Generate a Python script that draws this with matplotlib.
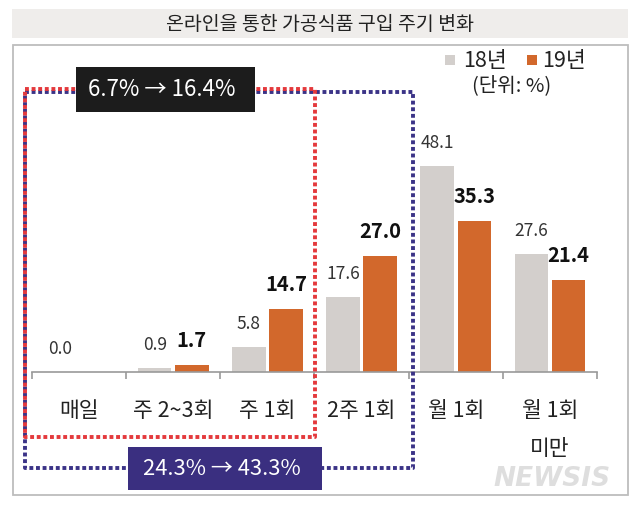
import numpy as np
import matplotlib
matplotlib.use('Agg')
import matplotlib.pyplot as plt
from matplotlib.patches import Rectangle

plt.rcParams['font.family'] = ['Noto Sans CJK KR', 'DejaVu Sans']

# data
categories = ['매일', '주 2~3회', '주 1회', '2주 1회', '월 1회', '월 1회\n미만']
y18 = [0.0, 0.9, 5.8, 17.6, 48.1, 27.6]
y19 = [0.0, 1.7, 14.7, 27.0, 35.3, 21.4]
show19 = [False, True, True, True, True, True]  # 매일 19년 label is not printed
legend_labels = ['18년', '19년']
title = '온라인을 통한 가공식품 구입 주기 변화'
unit = '(단위: %)'
box_small = '6.7% → 16.4%'
box_big = '24.3% → 43.3%'

c18 = '#d3cfcc'
c19 = '#d2682c'
W, H = 640, 505

fig = plt.figure(figsize=(6.4, 5.05), dpi=100)
fig.patch.set_facecolor('white')

# main chart axes, pixel layout: x 32..597, baseline at y=372
ax = fig.add_axes([32 / W, (H - 372) / H, (597 - 32) / W, 322 / H])
ax.set_facecolor('none')
x = np.arange(len(categories))
bw = 0.355
off = 0.197
ax.bar(x - off, y18, bw, color=c18, zorder=2)
ax.bar(x + off, y19, bw, color=c19, zorder=2)
ax.set_xlim(-0.5, len(categories) - 0.5)
ax.set_ylim(0, 75.2)

for i in range(len(categories)):
    ax.annotate(f'{y18[i]:.1f}', (x[i] - off, y18[i]), xytext=(0, 10),
                textcoords='offset points', ha='center', va='bottom',
                fontsize=12.5, color='#333333')
    if show19[i]:
        ax.annotate(f'{y19[i]:.1f}', (x[i] + off, y19[i]), xytext=(0, 10),
                    textcoords='offset points', ha='center', va='bottom',
                    fontsize=14.5, fontweight='bold', color='#111111')

for s in ['top', 'right', 'left']:
    ax.spines[s].set_visible(False)
ax.spines['bottom'].set_color('#999999')
ax.spines['bottom'].set_linewidth(1.2)
ax.set_yticks([])
ax.set_xticks(x)
ax.set_xticklabels(categories, fontsize=15.5, color='#222222', linespacing=1.95)
ax.tick_params(axis='x', which='major', length=0, pad=20)
ax.set_xticks(np.arange(-0.5, len(categories)), minor=True)
ax.tick_params(axis='x', which='minor', length=5, width=1.2, color='#999999', direction='out')

# overlay in pixel coordinates for frame, boxes and legend
ov = fig.add_axes([0, 0, 1, 1], zorder=5)
ov.set_xlim(0, W)
ov.set_ylim(H, 0)
ov.axis('off')
ov.patch.set_alpha(0)

ov.add_patch(Rectangle((12, 9), 616, 29, facecolor='#efedeb', edgecolor='none'))
ov.text(320, 24, title, ha='center', va='center', fontsize=14, color='#222222')
ov.add_patch(Rectangle((13, 45), 615, 450, facecolor='none', edgecolor='#bdbdbd', lw=1.3))

dots = (0, (1, 0.7))
ov.plot([25, 413, 413, 25, 25], [92, 92, 468, 468, 92], color='#3b3387', lw=2.8,
        linestyle=dots, dash_capstyle='butt')
ov.plot([25, 315, 315, 25, 25], [89, 89, 437, 437, 89], color='#e4393c', lw=2.8,
        linestyle=dots, dash_capstyle='butt')

ov.add_patch(Rectangle((76, 67), 179, 45, facecolor='#1c1c1c', edgecolor='none', zorder=6))
ov.text(162, 90, box_small, ha='center', va='center', fontsize=16, color='white', zorder=7)
ov.add_patch(Rectangle((128, 447), 194, 43, facecolor='#3a2f80', edgecolor='none', zorder=6))
ov.text(222, 469, box_big, ha='center', va='center', fontsize=15.8, color='white', zorder=7)

# legend
ov.add_patch(Rectangle((445, 55), 10, 10, facecolor=c18, edgecolor='none'))
ov.text(463, 61, legend_labels[0], ha='left', va='center', fontsize=15.5, color='#222222')
ov.add_patch(Rectangle((527, 55), 10, 10, facecolor=c19, edgecolor='none'))
ov.text(542, 61, legend_labels[1], ha='left', va='center', fontsize=15.5, color='#222222')
ov.text(512, 86, unit, ha='center', va='center', fontsize=14.5, color='#222222')

# watermark
ov.text(552, 479, 'NEWSIS', ha='center', va='center', fontsize=19, fontweight='bold',
        fontstyle='italic', family='DejaVu Sans', color='#dedede', zorder=4)

fig.savefig('out.png', dpi=100)
